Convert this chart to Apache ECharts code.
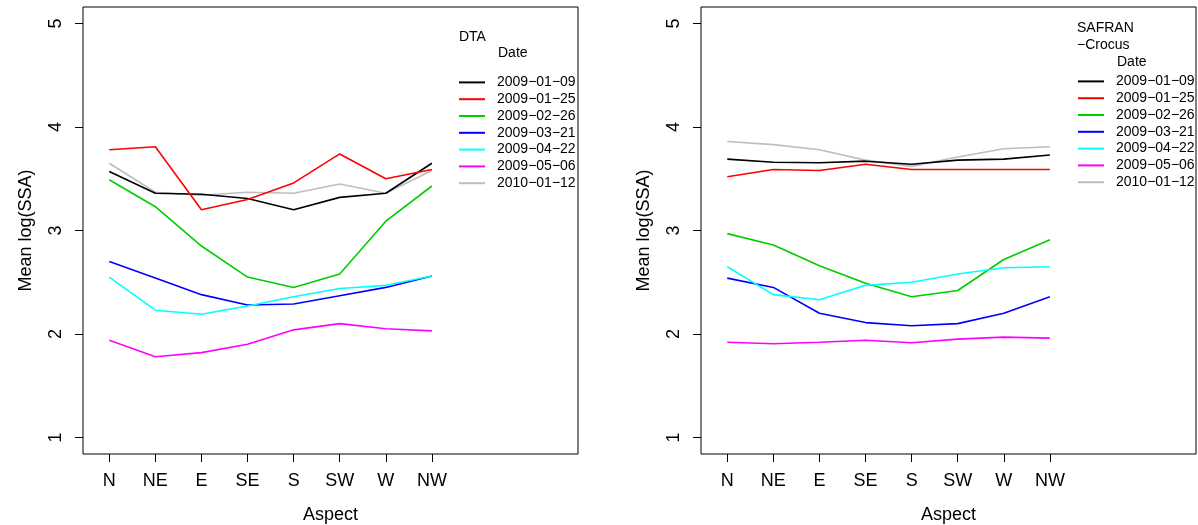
<!DOCTYPE html>
<html>
<head>
<meta charset="utf-8">
<script src="https://cdn.jsdelivr.net/npm/echarts@6/dist/echarts.min.js"></script>
<style>
  html, body { margin: 0; padding: 0; background: #fff; }
  #chart { width: 1198px; height: 525px; }
</style>
</head>
<body>
<div id="chart"></div>
<script>
const aspects = ['N', 'NE', 'E', 'SE', 'S', 'SW', 'W', 'NW']
const dates = ['2009-01-09', '2009-01-25', '2009-02-26', '2009-03-21', '2009-04-22', '2009-05-06', '2010-01-12']
const colors = ['#000000', '#ff0000', '#00cd00', '#0000ff', '#00ffff', '#ff00ff', '#bebebe']
const yTicks = [1, 2, 3, 4, 5]

// DTA panel, one array per date
const dta0109 = [3.57, 3.36, 3.35, 3.31, 3.20, 3.32, 3.36, 3.65]
const dta0125 = [3.78, 3.81, 3.20, 3.30, 3.46, 3.74, 3.50, 3.59]
const dta0226 = [3.49, 3.23, 2.85, 2.55, 2.45, 2.58, 3.09, 3.43]
const dta0321 = [2.70, 2.54, 2.38, 2.28, 2.29, 2.37, 2.45, 2.56]
const dta0422 = [2.55, 2.23, 2.19, 2.27, 2.36, 2.44, 2.47, 2.56]
const dta0506 = [1.94, 1.78, 1.82, 1.90, 2.04, 2.10, 2.05, 2.03]
const dta1012 = [3.65, 3.37, 3.34, 3.37, 3.36, 3.45, 3.36, 3.58]

// SAFRAN-Crocus panel
const sc0109 = [3.69, 3.66, 3.655, 3.67, 3.64, 3.68, 3.69, 3.73]
const sc0125 = [3.52, 3.59, 3.58, 3.64, 3.59, 3.59, 3.59, 3.59]
const sc0226 = [2.97, 2.86, 2.66, 2.49, 2.36, 2.42, 2.72, 2.91]
const sc0321 = [2.54, 2.45, 2.20, 2.11, 2.08, 2.10, 2.20, 2.36]
const sc0422 = [2.65, 2.38, 2.33, 2.47, 2.50, 2.58, 2.64, 2.65]
const sc0506 = [1.92, 1.905, 1.92, 1.94, 1.915, 1.95, 1.97, 1.96]
const sc1012 = [3.86, 3.83, 3.78, 3.68, 3.62, 3.71, 3.79, 3.81]

const dtaSeries = [dta0109, dta0125, dta0226, dta0321, dta0422, dta0506, dta1012]
const scSeries = [sc0109, sc0125, sc0226, sc0321, sc0422, sc0506, sc1012]

const font = "'Liberation Sans', Arial, sans-serif"
const xTicks = aspects.map((a, i) => i + 1)

const makeX = idx => ({
  type: 'value', gridIndex: idx, min: 0.43, max: 11.17,
  name: 'Aspect', nameLocation: 'middle', nameGap: 52,
  nameTextStyle: { fontFamily: font, fontSize: 18, color: '#000' },
  axisLine: { show: false },
  axisTick: { show: true, length: 8, customValues: xTicks, lineStyle: { color: '#000' } },
  axisLabel: { customValues: xTicks, margin: 18, fontFamily: font, fontSize: 18, color: '#000',
    formatter: v => aspects[Math.round(v) - 1] || '' },
  splitLine: { show: false }
})

const makeY = idx => ({
  type: 'value', gridIndex: idx, min: 0.84, max: 5.16,
  name: 'Mean log(SSA)', nameLocation: 'middle', nameGap: 48,
  nameTextStyle: { fontFamily: font, fontSize: 18, color: '#000' },
  axisLine: { show: false },
  axisTick: { show: true, length: 8, customValues: yTicks, lineStyle: { color: '#000' } },
  axisLabel: { customValues: yTicks, rotate: 90, margin: 18, fontFamily: font, fontSize: 18, color: '#000' },
  splitLine: { show: false }
})

const makeSeries = (arrs, idx) => arrs.map((vals, k) => ({
  name: dates[k], type: 'line', xAxisIndex: idx, yAxisIndex: idx,
  data: vals.map((v, i) => [i + 1, v]),
  symbol: 'none', silent: true,
  itemStyle: { color: colors[k] },
  lineStyle: { color: colors[k], width: 1.6 },
  z: k === 6 ? 1 : 2
}))

const makeLegend = (left, top) => ({
  orient: 'vertical', left, top, data: dates, padding: 0,
  icon: 'rect', itemWidth: 26, itemHeight: 2, itemGap: 0,
  selectedMode: false,
  textStyle: { fontFamily: font, fontSize: 14, color: '#000', lineHeight: 16.8, padding: [0, 0, 0, 7] },
  formatter: n => n.replace(/-/g, '\u2212')
})

const txt = (text, x, y) => ({
  type: 'text', style: { text, x, y, font: '14px ' + font, fill: '#000', verticalAlign: 'middle' }
})

const chart = echarts.init(document.getElementById('chart'))
chart.setOption({
  animation: false,
  backgroundColor: '#fff',
  grid: [
    { left: 83, top: 7, width: 495, height: 447, show: true, borderColor: '#000', borderWidth: 1,
      containLabel: false, outerBoundsMode: 'none' },
    { left: 701, top: 7, width: 495, height: 447, show: true, borderColor: '#000', borderWidth: 1,
      containLabel: false, outerBoundsMode: 'none' }
  ],
  xAxis: [makeX(0), makeX(1)],
  yAxis: [makeY(0), makeY(1)],
  legend: [makeLegend(459, 74), makeLegend(1078, 73)],
  graphic: [
    txt('DTA', 459, 37),
    txt('Date', 498, 53),
    txt('SAFRAN', 1077, 28),
    txt('\u2212Crocus', 1077, 45),
    txt('Date', 1117, 62)
  ],
  series: [...makeSeries(dtaSeries, 0), ...makeSeries(scSeries, 1)]
})
</script>
</body>
</html>
